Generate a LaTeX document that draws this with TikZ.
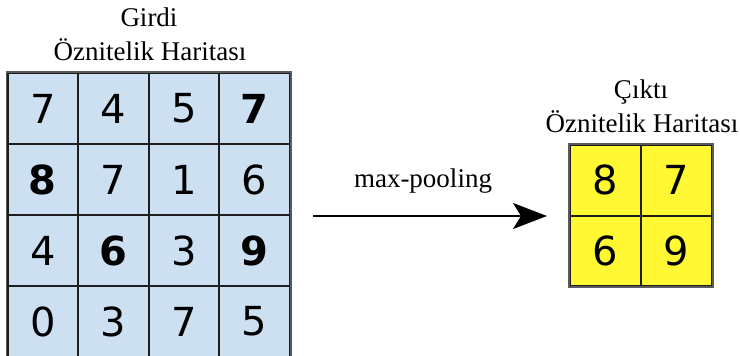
\documentclass[tikz,border=0pt]{standalone}
\usepackage{fontspec}
\setmainfont{Liberation Serif}
\newfontfamily\digitfont{DejaVu Sans}
\usetikzlibrary{arrows.meta}
\definecolor{inblue}{HTML}{CCE0F2}
\definecolor{outyellow}{HTML}{FFF833}
\definecolor{gridline}{HTML}{1E1E1E}
\definecolor{frame}{HTML}{5A5A5A}
\tikzset{
  caption/.style={font=\fontsize{27}{27}\selectfont, anchor=base, inner sep=0pt},
  incell/.style={draw=gridline, line width=2pt, fill=inblue, minimum width=70.6pt,
    minimum height=71pt, inner sep=0pt, font=\digitfont\fontsize{40}{40}\selectfont},
  outcell/.style={draw=gridline, line width=2pt, fill=outyellow, minimum width=71pt,
    minimum height=70.5pt, inner sep=0pt, font=\digitfont\fontsize{40}{40}\selectfont},
  big/.style={font=\digitfont\bfseries\fontsize{40}{40}\selectfont},
  flow/.style={line width=2.2pt, -{Stealth[length=34pt, width=26pt, inset=8pt]}}
}
\begin{document}
\begin{tikzpicture}[x=1pt, y=-1pt]
  \useasboundingbox (0,0) rectangle (740,356);
  \clip (0,0) rectangle (740,356);

  % input feature map, 4x4
  \foreach \v/\b [count=\k from 0] in {7/0,4/0,5/0,7/1, 8/1,7/0,1/0,6/0, 4/0,6/1,3/0,9/1, 0/0,3/0,7/0,5/0}{
    \pgfmathtruncatemacro{\r}{int(\k/4)}
    \pgfmathtruncatemacro{\c}{mod(\k,4)}
    \ifnum\b=1
      \node[incell, big] (in-\r-\c) at ({42.8+70.6*\c},{108.5+71*\r}) {\v};
    \else
      \node[incell] (in-\r-\c) at ({42.8+70.6*\c},{108.5+71*\r}) {\v};
    \fi
  }
  \draw[frame, line width=1.4pt] (in-0-0.north west) rectangle (in-3-3.south east);

  \node[caption] (intitle1) at (149,27) {Girdi};
  \node[caption] (intitle2) at (150,60) {Öznitelik Haritası};

  % output feature map, 2x2
  \node[outcell] (out-0-0) at (605.5,180.25) {8};
  \node[outcell] (out-0-1) at (676.5,180.25) {7};
  \node[outcell] (out-1-0) at (605.5,250.75) {6};
  \node[outcell] (out-1-1) at (676.5,250.75) {9};
  \draw[frame, line width=1.4pt] (out-0-0.north west) rectangle (out-1-1.south east);

  \node[caption] (outtitle1) at (641,98) {Çıktı};
  \node[caption] (outtitle2) at (642,132) {Öznitelik Haritası};

  % pooling arrow
  \coordinate (from) at (313,216);
  \coordinate (to) at (547,216);
  \draw[flow] (from) -- (to);
  \node[caption] (oplabel) at (423,187) {max-pooling};
\end{tikzpicture}
\end{document}
